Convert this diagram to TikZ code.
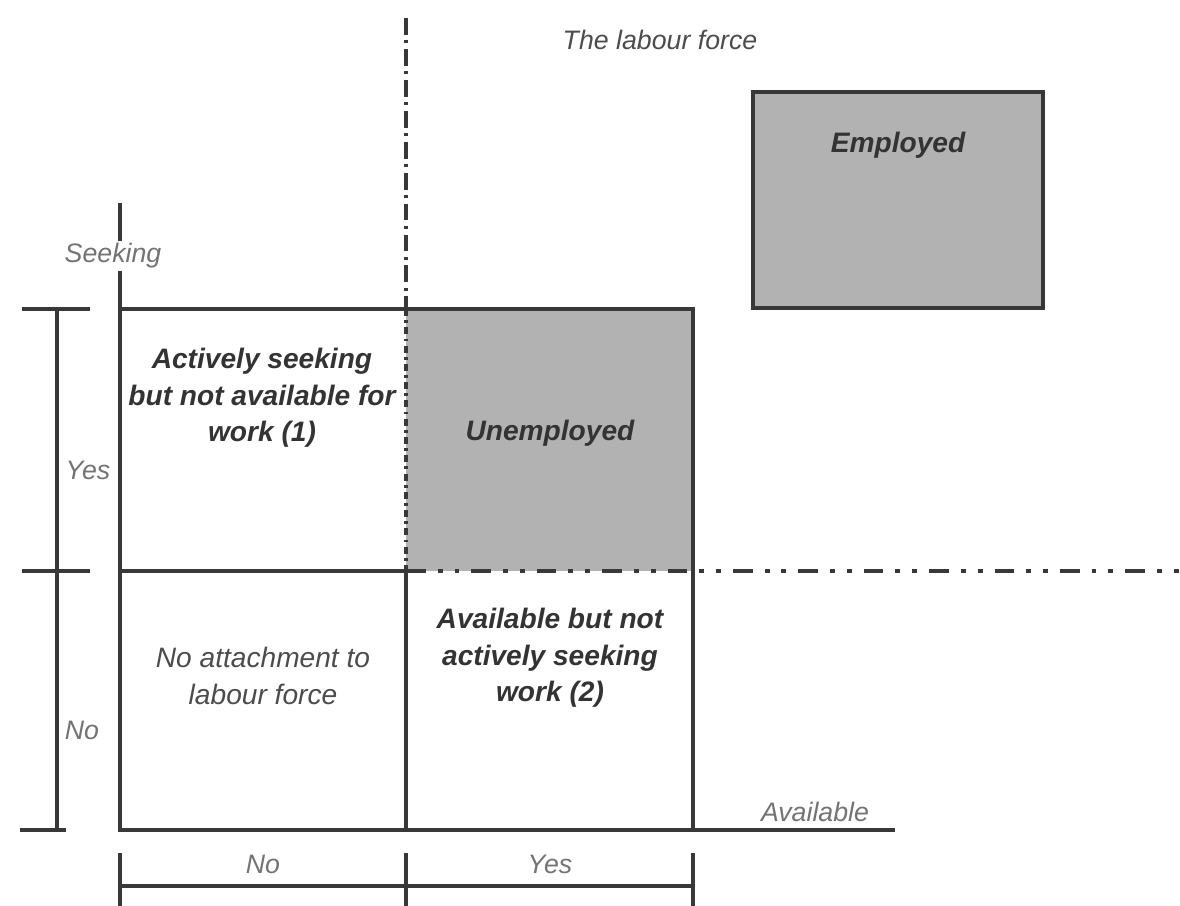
\documentclass[tikz,border=0pt]{standalone}
\usepackage{fontspec}
\setmainfont{Liberation Sans}
\usepackage{xcolor}
\usetikzlibrary{positioning}

\definecolor{inchiostro}{gray}{0.22}

\begin{document}
\begin{tikzpicture}[
      x=0.025cm, y=-0.025cm,
      linea/.style={line width=2.3pt, draw=inchiostro},
      lbl/.style={font=\fontsize{19}{23}\selectfont\itshape, text=black!55},
      cella/.style={font=\fontsize{20}{26}\selectfont\bfseries\itshape, text=black!80, align=center},
      grigio/.style={fill=black!30},
      trattopunto/.style={dash pattern=on 12pt off 4pt on 2pt off 4pt},
      puntini/.style={dash pattern=on 5pt off 3pt on 2pt off 3pt},
      trattoduepunti/.style={dash pattern=on 14pt off 8.5pt on 3.5pt off 8.5pt on 3.5pt off 8.5pt}
    ]
    \useasboundingbox (0,0) rectangle (1180,906);

    % Riquadri grigi
    \fill[grigio] (406,309) rectangle (693,571);
    \draw[line width=3pt, draw=inchiostro, grigio] (753,92) rectangle (1043,308);

    % Assi
    \draw[linea] (120,203) -- (120,830) -- (895,830);

    % Griglia
    \draw[linea] (120,309) -- (693,309) -- (693,830);
    \draw[linea] (120,571) -- (406,571);
    \draw[linea] (406,571) -- (406,830);
    \draw[linea, trattopunto] (406,18) -- (406,309);
    \draw[linea, puntini] (406,309) -- (406,571);
    \draw[linea, trattoduepunti] (406,571) -- (1180,571);

    % Parentesi in basso
    \draw[linea] (120,886) -- (693,886);
    \foreach \x in {120,406,693} \draw[linea] (\x,853) -- (\x,906);

    % Parentesi a sinistra
    \draw[linea] (57,309) -- (57,830);
    \foreach \y in {309,571} \draw[linea] (22,\y) -- (90,\y);
    \draw[linea] (20,830) -- (66,830);

    % Etichette
    \node[lbl, text=black!70] (forza) at (660,40) {The labour force};
    \node[lbl, fill=white, inner sep=2pt] (cerca) at (113,256) {Seeking};
    \node[lbl] (cercaSi) at (88,470) {Yes};
    \node[lbl] (cercaNo) at (82,730) {No};
    \node[lbl] (disp) at (815,812) {Available};
    \node[lbl] (dispNo) at (263,864) {No};
    \node[lbl] (dispSi) at (550,864) {Yes};

    % Celle
    \node[cella] (cella1) at (262,398) {Actively seeking\\but not available for\\work (1)};
    \node[cella] (disoccupati) at (550,433) {Unemployed};
    \node[cella, font=\fontsize{20}{26}\selectfont\itshape, text=black!70] (cella0) at (263,676) {No attachment to\\labour force};
    \node[cella] (cella2) at (550,658) {Available but not\\actively seeking\\work (2)};
    \node[cella] (occupati) at (898,145) {Employed};
  \end{tikzpicture}
\end{document}
